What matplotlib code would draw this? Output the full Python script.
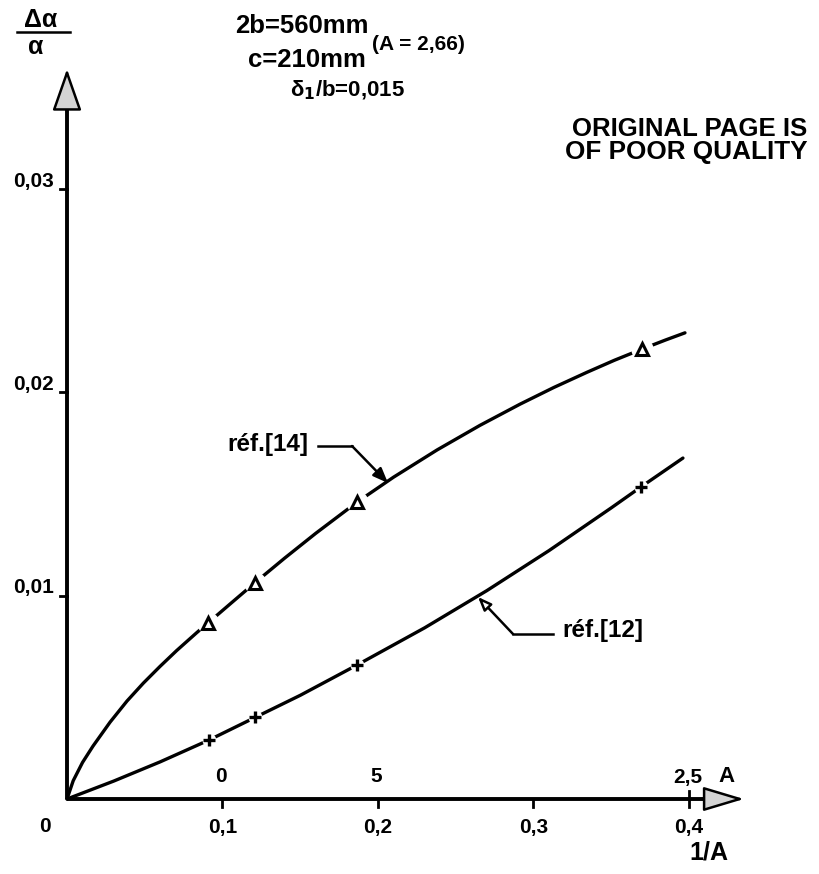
import matplotlib
matplotlib.use("Agg")
import matplotlib.pyplot as plt

# ---------------- data ----------------
# curve "réf.[14]" (line trace) and its triangle markers
ref14_curve_x = [0.0, 0.004, 0.010, 0.0167, 0.0277, 0.0386, 0.0491, 0.0598, 0.0705, 0.0834, 0.0907,
                 0.1050, 0.1209, 0.1400, 0.1600, 0.1865, 0.2100, 0.2380, 0.2656, 0.2913, 0.3130,
                 0.3344, 0.3520, 0.3698, 0.3850, 0.3974]
ref14_curve_y = [0.0, 0.0009, 0.0018, 0.0026, 0.00378, 0.00482, 0.00570, 0.00652, 0.00730, 0.00818, 0.00866,
                 0.00960, 0.01064, 0.01185, 0.01307, 0.01460, 0.01583, 0.01717, 0.01838, 0.01942, 0.02024,
                 0.02099, 0.02158, 0.02213, 0.02258, 0.02293]
ref14_pts_x = [0.0907, 0.1209, 0.1865, 0.3698]
ref14_pts_y = [0.00866, 0.01064, 0.01460, 0.02213]

# curve "réf.[12]" (line trace) and its plus markers
ref12_curve_x = [0.0, 0.030, 0.060, 0.0913, 0.1209, 0.150, 0.1865, 0.230, 0.270, 0.310, 0.350, 0.3691, 0.3961]
ref12_curve_y = [0.0, 0.00088, 0.00183, 0.00290, 0.00401, 0.00510, 0.00659, 0.00842, 0.01025, 0.01222,
                 0.01432, 0.01535, 0.01677]
ref12_pts_x = [0.0913, 0.1209, 0.1865, 0.3691]
ref12_pts_y = [0.00290, 0.00401, 0.00659, 0.01535]

x_ticks = [0.1, 0.2, 0.3, 0.4]
x_tick_labels = ["0,1", "0,2", "0,3", "0,4"]
y_ticks = [0.01, 0.02, 0.03]
y_tick_labels = ["0,01", "0,02", "0,03"]
top_ticks = [0.1, 0.2, 0.4]
top_tick_labels = ["0", "5", "2,5"]

# ---------------- layout helpers (pixel -> data) ----------------
W, H = 820, 874
X0, Y0 = 67.0, 799.0       # pixel position of the origin
SX, SY = 1555.0, 20330.0   # pixels per data unit


def P(px, py):
    return ((px - X0) / SX, (Y0 - py) / SY)


FONT = "Liberation Sans"
plt.rcParams["font.family"] = [FONT, "DejaVu Sans"]

fig = plt.figure(figsize=(W / 100, H / 100), dpi=100)
ax = fig.add_axes([0, 0, 1, 1])
ax.set_xlim(P(0, 0)[0], P(W, 0)[0])
ax.set_ylim(P(0, H)[1], P(0, 0)[1])
ax.axis("off")

K = "black"

# ---------------- axes with arrows ----------------
xa_end = P(707, 0)[0]
xa_tip = P(744, 0)[0]
ya_end = P(0, 107)[1]
ya_tip = P(0, 69)[1]
ax.plot([0, xa_end], [0, 0], color=K, lw=2.8, solid_capstyle="butt", zorder=3)
ax.plot([0, 0], [0, ya_end], color=K, lw=2.8, solid_capstyle="butt", zorder=3)
ax.annotate("", xy=(xa_tip, 0), xytext=(xa_end - 0.002, 0),
            arrowprops=dict(arrowstyle="-|>,head_length=0.4,head_width=0.12",
                            mutation_scale=64, fc="#d4d4d4", ec=K, lw=1.8,
                            shrinkA=0, shrinkB=0), zorder=4)
ax.annotate("", xy=(0, ya_tip), xytext=(0, ya_end - 0.0001),
            arrowprops=dict(arrowstyle="-|>,head_length=0.4,head_width=0.14",
                            mutation_scale=66, fc="#d4d4d4", ec=K, lw=1.8,
                            shrinkA=0, shrinkB=0), zorder=4)

# ticks
tlen_x = 8 / SY
for t in x_ticks:
    lo = -tlen_x
    hi = 0 if t < 0.35 else 8 / SY
    ax.plot([t, t], [lo, hi], color=K, lw=2, zorder=3)
tlen_y = 7 / SX
for t in y_ticks:
    ax.plot([-tlen_y, 0], [t, t], color=K, lw=2, zorder=3)

fs_tick = 15
for t, lab in zip(x_ticks, x_tick_labels):
    ax.text(t, P(0, 828)[1], lab, ha="center", va="center", fontsize=fs_tick,
            fontweight="bold", color=K)
for t, lab in zip(top_ticks, top_tick_labels):
    ax.text(t - 0.001, P(0, 777)[1], lab, ha="center", va="center", fontsize=fs_tick,
            fontweight="bold", color=K)
ax.text(*P(727, 777), "A", ha="center", va="center", fontsize=16, fontweight="bold", color=K)
ax.text(*P(45, 827), "0", ha="center", va="center", fontsize=fs_tick, fontweight="bold", color=K)
ax.text(*P(709, 853), "1/A", ha="center", va="center", fontsize=18, fontweight="bold", color=K)
for t, lab in zip(y_ticks, y_tick_labels):
    ax.text(P(54, 0)[0], t + 8 / SY, lab, ha="right", va="center", fontsize=fs_tick,
            fontweight="bold", color=K)

# y label as a fraction
ax.text(*P(41, 20), "Δα", ha="center", va="center", fontsize=18, fontweight="bold", color=K)
ax.plot([P(17, 0)[0], P(70, 0)[0]], [P(0, 32)[1]] * 2, color=K, lw=1.8)
ax.text(*P(36, 47), "α", ha="center", va="center", fontsize=18, fontweight="bold", color=K)

# header texts
ax.text(*P(302, 26), "2b=560mm", ha="center", va="center", fontsize=18.5, fontweight="bold", color=K)
ax.text(*P(307, 60), "c=210mm", ha="center", va="center", fontsize=18.5, fontweight="bold", color=K)
ax.text(*P(372, 44), "(A = 2,66)", ha="left", va="center", fontsize=15, fontweight="bold", color=K)
ax.text(*P(290, 90), "δ$_{\\mathbf{1}}$/b=0,015", ha="left", va="center", fontsize=16,
        fontweight="bold", color=K)
ax.text(*P(572, 129), "ORIGINAL PAGE IS", ha="left", va="center", fontsize=18.5,
        fontweight="bold", color=K)
ax.text(*P(565, 152), "OF POOR QUALITY", ha="left", va="center", fontsize=18.8,
        fontweight="bold", color=K)

# ---------------- curves ----------------
ax.plot(ref14_curve_x, ref14_curve_y, color=K, lw=2.4, solid_capstyle="round",
        solid_joinstyle="round", zorder=2)
ax.plot(ref12_curve_x, ref12_curve_y, color=K, lw=2.4, solid_capstyle="round",
        solid_joinstyle="round", zorder=2)
# white halos that break the line at the markers
ax.plot(ref14_pts_x, ref14_pts_y, ls="none", marker="o", ms=15, mfc="white", mec="white", zorder=2.5)
ax.plot(ref12_pts_x, ref12_pts_y, ls="none", marker="o", ms=9, mfc="white", mec="white", zorder=2.5)
ax.plot(ref14_pts_x, ref14_pts_y, ls="none", marker="^", ms=8.5, mfc="white", mec=K, mew=2.2, zorder=3)
ax.plot(ref12_pts_x, ref12_pts_y, ls="none", marker="+", ms=9, mec=K, mew=2.4, zorder=3)

# ---------------- annotations ----------------
ax.text(*P(268, 445), "réf.[14]", ha="center", va="center", fontsize=17.5, fontweight="bold", color=K)
k14a, k14b = P(318, 446), P(352, 446)
tip14 = P(388, 483)
ax.plot([k14a[0], k14b[0]], [k14a[1], k14b[1]], color=K, lw=1.8)
ax.annotate("", xy=tip14, xytext=k14b,
            arrowprops=dict(arrowstyle="-|>,head_length=0.5,head_width=0.2", mutation_scale=18,
                            fc=K, ec=K, lw=1.8, shrinkA=0, shrinkB=0))

ax.text(*P(603, 631), "réf.[12]", ha="center", va="center", fontsize=17.5, fontweight="bold", color=K)
k12a, k12b = P(553, 634), P(513, 634)
tip12 = P(478, 597)
ax.plot([k12a[0], k12b[0]], [k12a[1], k12b[1]], color=K, lw=1.8)
ax.annotate("", xy=tip12, xytext=k12b,
            arrowprops=dict(arrowstyle="-|>,head_length=0.5,head_width=0.2", mutation_scale=16,
                            fc="white", ec=K, lw=1.8, shrinkA=0, shrinkB=0))

fig.savefig("out.png", dpi=100, facecolor="white")
